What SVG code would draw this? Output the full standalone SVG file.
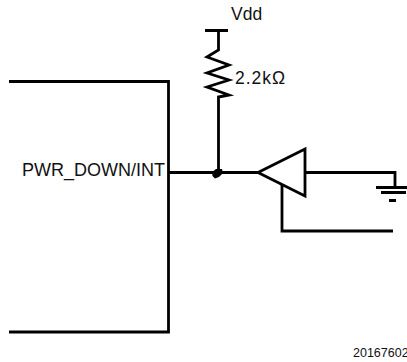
<svg xmlns="http://www.w3.org/2000/svg" width="407" height="362" viewBox="0 0 407 362">
<style>
.w{fill:none;stroke:#000;stroke-width:2.800;stroke-linejoin:miter}
.t{font-family:"Liberation Sans",Arial,sans-serif;fill:#111;font-size:17.500px}
</style>
<rect width="407" height="362" fill="#fff"/>
<g id="chip">
<path class="w" d="M9 81.500H168.500V332H9"/>
<text class="t" x="22" y="176" style="font-size:18px">PWR_DOWN/INT</text>
</g>
<g id="resistor">
<path class="w" d="M205 30.500H228M218.500 30.500V50L207 57L229 65L207 73L229 80L207 87L229 95L218.500 97V172"/>
<text class="t" x="231" y="20">Vdd</text>
<text class="t" x="235" y="84" textLength="50">2.2kΩ</text>
</g>
<g id="buffer">
<path class="w" d="M305 149V196L258 172.500Z"/>
</g>
<g id="ground">
<path class="w" d="M376 187.500H407M381 192.500H406M389 200.500H396"/>
</g>
<g id="connectors">
<path class="w" d="M169 172.500H258M305 172.500H395V187M282 185V231H393"/>
<path d="M212 172L216 169H222L223 173L219 177L215 178.500L212.500 176Z" fill="#000"/>
</g>
<text class="t" x="353" y="357" style="font-size:12.500px">20167602</text>
</svg>
